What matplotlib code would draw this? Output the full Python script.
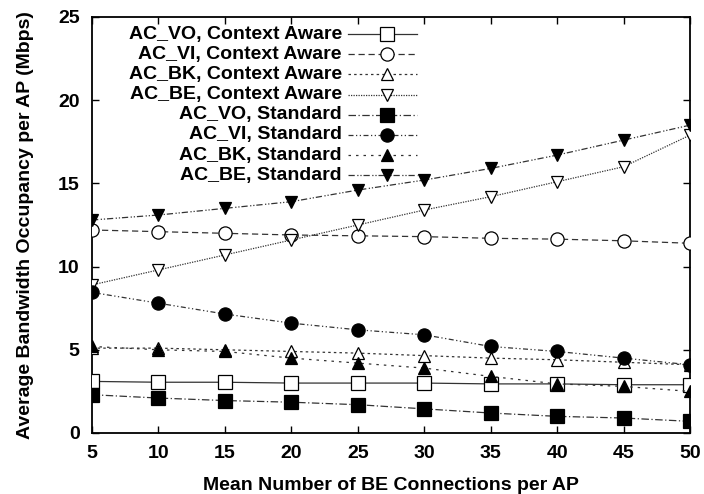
import matplotlib
matplotlib.use("Agg")
import matplotlib.pyplot as plt
from matplotlib.lines import Line2D

plt.rcParams['font.family'] = ['Liberation Sans', 'DejaVu Sans']
plt.rcParams['font.weight'] = 'bold'

# Mean number of BE connections per AP
connections = [5, 10, 15, 20, 25, 30, 35, 40, 45, 50]

# Average bandwidth occupancy per AP (Mbps)
vo_aware = [3.1, 3.05, 3.05, 3.0, 3.0, 3.0, 2.95, 2.95, 2.9, 2.9]
vi_aware = [12.2, 12.1, 12.0, 11.9, 11.85, 11.8, 11.7, 11.65, 11.55, 11.4]
bk_aware = [5.1, 5.1, 5.0, 4.9, 4.8, 4.65, 4.5, 4.4, 4.25, 4.1]
be_aware = [8.9, 9.8, 10.7, 11.6, 12.5, 13.4, 14.2, 15.1, 16.0, 17.9]
vo_standard = [2.3, 2.1, 1.95, 1.85, 1.7, 1.45, 1.2, 1.0, 0.9, 0.7]
vi_standard = [8.45, 7.8, 7.15, 6.6, 6.2, 5.9, 5.2, 4.9, 4.5, 4.1]
bk_standard = [5.2, 5.0, 4.9, 4.5, 4.2, 3.9, 3.4, 2.95, 2.8, 2.5]
be_standard = [12.8, 13.1, 13.5, 13.9, 14.6, 15.2, 15.9, 16.7, 17.6, 18.5]

series_labels = [
    "AC_VO, Context Aware",
    "AC_VI, Context Aware",
    "AC_BK, Context Aware",
    "AC_BE, Context Aware",
    "AC_VO, Standard",
    "AC_VI, Standard",
    "AC_BK, Standard",
    "AC_BE, Standard",
]
series_values = [vo_aware, vi_aware, bk_aware, be_aware,
                 vo_standard, vi_standard, bk_standard, be_standard]

# gnuplot-like point types and dash patterns
styles = [
    dict(marker='s', mfc='white', ls='-'),
    dict(marker='o', mfc='white', ls=(0, (5, 3))),
    dict(marker='^', mfc='white', ls=(0, (2, 2.5))),
    dict(marker='v', mfc='white', ls=(0, (1, 1))),
    dict(marker='s', mfc='black', ls=(0, (6, 2, 1, 2))),
    dict(marker='o', mfc='black', ls=(0, (4, 2, 1, 2, 1, 2))),
    dict(marker='^', mfc='black', ls=(0, (2, 4))),
    dict(marker='v', mfc='black', ls=(0, (5, 2, 1, 1.5, 1, 1.5))),
]
marker_sizes = {'s': 9.5, 'o': 9.5, '^': 9, 'v': 9}

fig = plt.figure(figsize=(7.04, 4.94), dpi=100)
ax = fig.add_axes([0.1307, 0.1235, 0.8494, 0.8421])

line_color = '#333333'
for vals, st in zip(series_values, styles):
    ax.plot(connections, vals, color=line_color, lw=0.9, ls=st['ls'],
            marker=st['marker'], ms=marker_sizes[st['marker']],
            mfc=st['mfc'], mec='black', mew=0.9, zorder=3)

ax.set_xlim(5, 50)
ax.set_ylim(0, 25)
ax.set_xticks(connections)
ax.set_yticks([0, 5, 10, 15, 20, 25])
ax.tick_params(direction='in', length=5, width=1, top=True, right=True,
               labelsize=14, pad=9)
for lab in ax.get_xticklabels() + ax.get_yticklabels():
    lab.set_fontweight('bold')
for sp in ax.spines.values():
    sp.set_linewidth(1.3)

ax.set_xlabel("Mean Number of BE Connections per AP", fontsize=14,
              fontweight='bold', labelpad=10.5)
ax.set_ylabel("Average Bandwidth Occupancy per AP (Mbps)", fontsize=14,
              fontweight='bold', labelpad=17)

# key: right-aligned labels followed by a line sample
text_x, line_x0, line_x1, mark_x = 0.418, 0.428, 0.5435, 0.493
row_y0, row_step = 0.959, 0.0485
for i, (label, st) in enumerate(zip(series_labels, styles)):
    y = row_y0 - i * row_step
    ax.text(text_x, y, label, transform=ax.transAxes, ha='right',
            va='center', fontsize=14, fontweight='bold')
    ax.add_line(Line2D([line_x0, line_x1], [y, y], transform=ax.transAxes,
                       color=line_color, lw=0.9, ls=st['ls'], zorder=4))
    ax.add_line(Line2D([mark_x], [y], transform=ax.transAxes,
                       marker=st['marker'], ms=marker_sizes[st['marker']],
                       mfc=st['mfc'], mec='black', mew=0.9, ls='none',
                       zorder=5))

fig.savefig("out.png", dpi=100)
